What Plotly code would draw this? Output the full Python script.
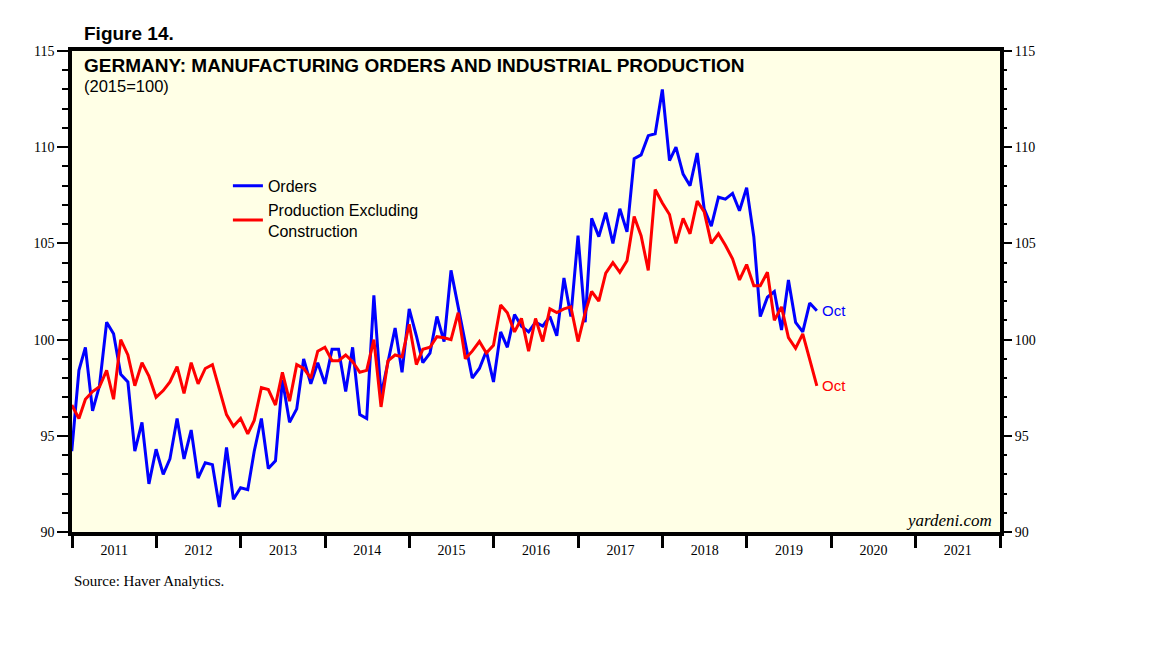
import pandas as pd
import plotly.graph_objects as go

# monthly index, 2015=100 (Dec 2010 .. Oct 2019)
months = pd.date_range("2010-12-31", periods=107, freq="ME")

orders = [
    94.2, 98.4, 99.6, 96.3, 97.6, 100.9, 100.3, 98.2, 97.8, 94.2, 95.7, 92.5,
    94.3, 93.0, 93.8, 95.9, 93.8, 95.3, 92.8, 93.6, 93.5, 91.3, 94.4, 91.7,
    92.3, 92.2, 94.2, 95.9, 93.3, 93.7, 97.9, 95.7, 96.4, 99.0, 97.7, 98.8,
    97.7, 99.5, 99.5, 97.3, 99.6, 96.1, 95.9, 102.3, 97.1, 98.9, 100.6, 98.3,
    101.6, 100.2, 98.8, 99.3, 101.2, 99.9, 103.6, 101.7, 99.9, 98.0, 98.5, 99.4,
    97.8, 100.4, 99.6, 101.3, 100.7, 100.4, 100.9, 100.7, 101.2, 100.2, 103.2, 101.2,
    105.4, 100.9, 106.3, 105.35, 106.6, 105.0, 106.8, 105.6, 109.4, 109.6, 110.6, 110.7,
    113.0, 109.3, 110.0, 108.6, 108.0, 109.7, 106.8, 105.9, 107.4, 107.3, 107.6, 106.7,
    107.9, 105.35, 101.2, 102.2, 102.5, 100.5, 103.1, 100.9, 100.4, 101.9, 101.5,
]

production = [
    96.6, 95.9, 96.9, 97.3, 97.55, 98.4, 96.9, 100.0, 99.2, 97.6, 98.8, 98.1,
    97.0, 97.35, 97.8, 98.6, 97.2, 98.8, 97.7, 98.5, 98.7, 97.4, 96.1, 95.5,
    95.9, 95.1, 95.8, 97.5, 97.4, 96.6, 98.3, 96.8, 98.7, 98.5, 98.0, 99.4,
    99.6, 98.9, 98.9, 99.2, 98.85, 98.3, 98.4, 100.0, 96.5, 98.9, 99.2, 99.1,
    100.8, 98.7, 99.5, 99.6, 100.15, 100.1, 100.0, 101.4, 99.0, 99.4, 99.9, 99.3,
    99.7, 101.8, 101.4, 100.4, 101.1, 99.4, 101.1, 99.9, 101.6, 101.4, 101.6, 101.7,
    99.9, 101.4, 102.5, 102.0, 103.45, 104.0, 103.5, 104.1, 106.4, 105.4, 103.6, 107.8,
    107.1, 106.5, 105.0, 106.3, 105.5, 107.2, 106.65, 105.0, 105.5, 104.9, 104.2, 103.1,
    103.9, 102.8, 102.8, 103.5, 101.0, 101.7, 100.1, 99.55, 100.3, 98.97, 97.6,
]

series_names = ["Orders", "Production Excluding<br>Construction"]
series_colors = ["#0000FF", "#FF0000"]

serif = "Liberation Serif, Times New Roman, serif"
sans = "Liberation Sans, Arial, sans-serif"

fig = go.Figure()
for vals, name, col in zip([orders, production], series_names, series_colors):
    fig.add_trace(go.Scatter(x=months, y=vals, mode="lines", name=name,
                             line=dict(color=col, width=3)))
    # "Oct" tag at the last point
    fig.add_annotation(x=months[-1], y=vals[-1], text="Oct", showarrow=False,
                       xanchor="left", xshift=3, font=dict(family=sans, size=15, color=col))

# invisible trace so the right-hand axis is drawn
fig.add_trace(go.Scatter(x=[months[0]], y=[100], yaxis="y2", mode="markers",
                         marker=dict(opacity=0), showlegend=False, hoverinfo="skip"))

yax = dict(range=[90, 115], dtick=5, ticks="outside", ticklen=11, tickwidth=1.5,
           tickcolor="black", showgrid=False, zeroline=False,
           tickfont=dict(family=serif, size=14, color="black"),
           minor=dict(dtick=1, ticks="outside", ticklen=6, tickwidth=1.5, tickcolor="black"))

# page has an 8px body margin, so margins are trimmed by 8
fig.update_layout(
    width=1152, height=648,
    margin=dict(l=64, r=160, t=43, b=124),
    paper_bgcolor="white", plot_bgcolor="#FFFFE6",
    xaxis=dict(type="date", range=["2011-01-01", "2022-01-01"],
               tick0="2011-01-01", dtick="M12", tickformat="%Y", ticklabelmode="period",
               ticks="outside", ticklen=12, tickwidth=2.5, tickcolor="black",
               ticklabelstandoff=-10,
               showline=True, linewidth=3.5, linecolor="black", mirror=True,
               showgrid=False, zeroline=False,
               tickfont=dict(family=serif, size=14, color="black")),
    yaxis=dict(**yax, showline=True, linewidth=3.5, linecolor="black", mirror=True),
    yaxis2=dict(**yax, overlaying="y", side="right", showline=False),
    legend=dict(x=0.168, y=0.755, xanchor="left", yanchor="top", bgcolor="rgba(0,0,0,0)",
                font=dict(family=sans, size=16, color="black"), tracegroupgap=0),
    showlegend=True,
)

fig.add_annotation(x=0.011, y=1.037, xref="paper", yref="paper", text="<b>Figure 14.</b>",
                   showarrow=False, xanchor="left", yanchor="middle",
                   font=dict(family=sans, size=19, color="black"))
fig.add_annotation(x=0.011, y=0.969, xref="paper", yref="paper",
                   text="<b>GERMANY: MANUFACTURING ORDERS AND INDUSTRIAL PRODUCTION</b>",
                   showarrow=False, xanchor="left", yanchor="middle",
                   font=dict(family=sans, size=19, color="black"))
fig.add_annotation(x=0.011, y=0.928, xref="paper", yref="paper", text="(2015=100)",
                   showarrow=False, xanchor="left", yanchor="middle",
                   font=dict(family=sans, size=16.5, color="black"))
fig.add_annotation(x=0.993, y=0.024, xref="paper", yref="paper", text="<i>yardeni.com</i>",
                   showarrow=False, xanchor="right", yanchor="middle",
                   font=dict(family=serif, size=17, color="black"))
fig.add_annotation(x=0.0, y=-0.102, xref="paper", yref="paper", text="Source: Haver Analytics.",
                   showarrow=False, xanchor="left", yanchor="middle",
                   font=dict(family=serif, size=15, color="black"))

fig.write_html("out.html")
